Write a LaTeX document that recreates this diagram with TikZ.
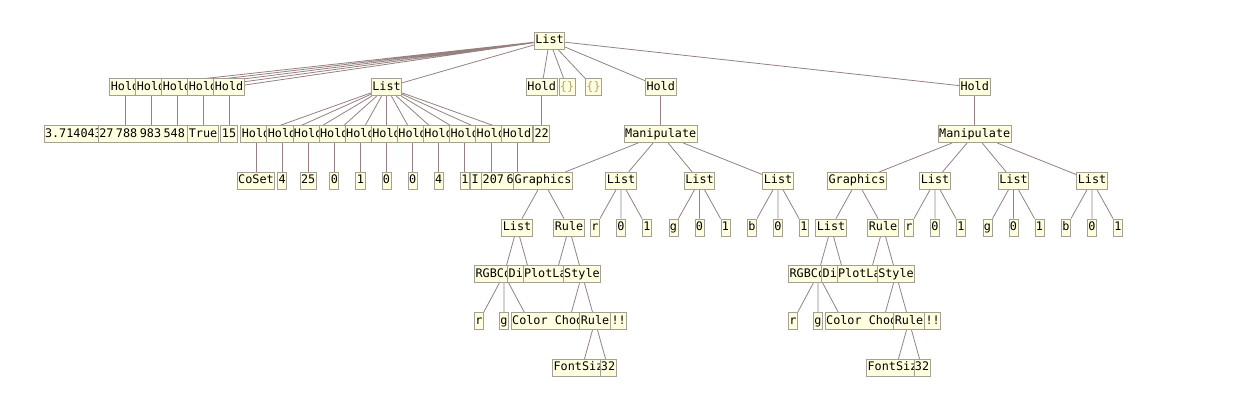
\documentclass[tikz,border=0pt]{standalone}
\usepackage{fontspec}
\newfontfamily\treefont{DejaVu Sans Mono}
\usetikzlibrary{backgrounds}

\definecolor{boxfill}{RGB}{255,255,224}
\definecolor{framegray}{RGB}{165,160,150}
\definecolor{edgecol}{RGB}{150,128,128}
\definecolor{bracecol}{RGB}{190,160,120}
\newcommand\tf{\treefont\fontsize{11.8}{13}\selectfont}
\newcommand\gap{\hspace{2.5pt}}
\tikzset{wide/.style={text width=#1,align=left}}

\begin{document}
\begin{tikzpicture}[x=1pt,y=-1pt]
\tikzstyle{vtx}=[draw=framegray,fill=boxfill,line width=0.8pt,inner xsep=1pt,inner ysep=0pt,minimum height=17pt,text height=8.6pt,text depth=2.4pt,font=\tf]
\tikzstyle{link}=[draw=edgecol,line width=0.8pt]
\useasboundingbox (0,0) rectangle (1244,410);

% level 0 and 1
\node[vtx] (root) at (549.5,40.5) {List};
\node[vtx] (ha) at (125,87.3) {Hold};
\node[vtx] (hb) at (151,87.3) {Hold};
\node[vtx] (hc) at (177,87.3) {Hold};
\node[vtx] (hd) at (203,87.3) {Hold};
\node[vtx] (he) at (229,87.3) {Hold};
\node[vtx] (lst) at (386.5,87.3) {List};
\node[vtx] (hf) at (541.7,87.3) {Hold};
\node[vtx,text=bracecol] (ea) at (567,87.3) {\{\}};
\node[vtx,text=bracecol] (eb) at (593.5,87.3) {\{\}};
\node[vtx] (hm) at (660.7,87.3) {Hold};
\node[vtx] (hn) at (974.7,87.3) {Hold};

% level 2
\node[vtx,wide=160pt] (va) at (125,134) {3.714043};
\node[vtx,wide=103.4pt] (vb) at (151,134) {27\gap788\gap983\gap548\gap9};
\coordinate (vc) at (177,134);
\node[vtx] (vd) at (203,134) {True};
\node[vtx] (ve) at (229,134) {15};
\node[vtx] (k1) at (256,134) {Hold};
\node[vtx] (k2) at (282.1,134) {Hold};
\node[vtx] (k3) at (308.2,134) {Hold};
\node[vtx] (k4) at (334.3,134) {Hold};
\node[vtx] (k5) at (360.4,134) {Hold};
\node[vtx] (k6) at (386.5,134) {Hold};
\node[vtx] (k7) at (412.6,134) {Hold};
\node[vtx] (k8) at (438.7,134) {Hold};
\node[vtx] (k9) at (464.8,134) {Hold};
\node[vtx] (k10) at (490.9,134) {Hold};
\node[vtx] (k11) at (517,134) {Hold};
\node[vtx] (vf) at (541.7,134) {22};
\node[vtx] (ma) at (660.7,134) {Manipulate};
\node[vtx] (mb) at (974.7,134) {Manipulate};

% level 3
\node[vtx] (c1) at (256,180.8) {CoSet};
\node[vtx] (c2) at (282.1,180.8) {4};
\node[vtx] (c3) at (308.2,180.8) {25};
\node[vtx] (c4) at (334.3,180.8) {0};
\node[vtx] (c5) at (360.4,180.8) {1};
\node[vtx] (c6) at (386.5,180.8) {0};
\node[vtx] (c7) at (412.6,180.8) {0};
\node[vtx] (c8) at (438.7,180.8) {4};
\node[vtx] (c9) at (464.8,180.8) {1};
\node[vtx,wide=38.4pt] (c10) at (490.9,180.8) {I};
\node[vtx,wide=68.6pt] (c11) at (517,180.8) {207\gap6};
\node[vtx] (ga) at (543,180.8) {Graphics};
\node[vtx] (pa) at (621,180.8) {List};
\node[vtx] (qa) at (699.5,180.8) {List};
\node[vtx] (sa) at (778,180.8) {List};
\node[vtx] (gb) at (857,180.8) {Graphics};
\node[vtx] (pb) at (935,180.8) {List};
\node[vtx] (qb) at (1013.5,180.8) {List};
\node[vtx] (sb) at (1092,180.8) {List};

% level 4
\node[vtx] (la) at (517,227.5) {List};
\node[vtx] (ra) at (569,227.5) {Rule};
\node[vtx] (pa1) at (595,227.5) {r};
\node[vtx] (pa2) at (621,227.5) {0};
\node[vtx] (pa3) at (647,227.5) {1};
\node[vtx] (qa1) at (673.5,227.5) {g};
\node[vtx] (qa2) at (699.5,227.5) {0};
\node[vtx] (qa3) at (725.5,227.5) {1};
\node[vtx] (sa1) at (752,227.5) {b};
\node[vtx] (sa2) at (778,227.5) {0};
\node[vtx] (sa3) at (804,227.5) {1};
\node[vtx] (lb) at (831,227.5) {List};
\node[vtx] (rb) at (883,227.5) {Rule};
\node[vtx] (pb1) at (909,227.5) {r};
\node[vtx] (pb2) at (935,227.5) {0};
\node[vtx] (pb3) at (961,227.5) {1};
\node[vtx] (qb1) at (987.5,227.5) {g};
\node[vtx] (qb2) at (1013.5,227.5) {0};
\node[vtx] (qb3) at (1039.5,227.5) {1};
\node[vtx] (sb1) at (1066,227.5) {b};
\node[vtx] (sb2) at (1092,227.5) {0};
\node[vtx] (sb3) at (1118,227.5) {1};

% level 5
\node[vtx] (rgba) at (504,274.3) {RGBColor};
\node[vtx] (dska) at (530,274.3) {Disk[]};
\node[vtx] (plba) at (556,274.3) {PlotLabel};
\node[vtx] (stya) at (582,274.3) {Style};
\node[vtx] (rgbb) at (818,274.3) {RGBColor};
\node[vtx] (dskb) at (844,274.3) {Disk[]};
\node[vtx] (plbb) at (870,274.3) {PlotLabel};
\node[vtx] (styb) at (896,274.3) {Style};

% level 6
\node[vtx] (ua1) at (479,321) {r};
\node[vtx] (ua2) at (504,321) {g};
\coordinate (ua3) at (529,321);
\node[vtx] (chsa) at (569,321) {Color Chooser !!};
\node[vtx] (rula) at (595,321) {Rule};
\node[vtx] (ub1) at (793,321) {r};
\node[vtx] (ub2) at (818,321) {g};
\coordinate (ub3) at (843,321);
\node[vtx] (chsb) at (883,321) {Color Chooser !!};
\node[vtx] (rulb) at (909,321) {Rule};

% level 7
\node[vtx] (fsa) at (582,367.8) {FontSize};
\node[vtx] (nma) at (608,367.8) {32};
\node[vtx] (fsb) at (896,367.8) {FontSize};
\node[vtx] (nmb) at (922,367.8) {32};

% connectors
\begin{scope}[on background layer]
\draw[link] (root) -- (ha) (root) -- (hb) (root) -- (hc) (root) -- (hd) (root) -- (he)
  (root) -- (lst) (root) -- (hf) (root) -- (ea) (root) -- (eb) (root) -- (hm) (root) -- (hn);
\draw[link] (ha) -- (va) (hb) -- (vb) (hc) -- (vc) (hd) -- (vd) (he) -- (ve)
  (hf) -- (vf) (hm) -- (ma) (hn) -- (mb);
\draw[link] (lst) -- (k1) (lst) -- (k2) (lst) -- (k3) (lst) -- (k4) (lst) -- (k5) (lst) -- (k6)
  (lst) -- (k7) (lst) -- (k8) (lst) -- (k9) (lst) -- (k10) (lst) -- (k11);
\draw[link] (k1) -- (c1) (k2) -- (c2) (k3) -- (c3) (k4) -- (c4) (k5) -- (c5) (k6) -- (c6)
  (k7) -- (c7) (k8) -- (c8) (k9) -- (c9) (k10) -- (c10) (k11) -- (c11);
\draw[link] (ma) -- (ga) (ma) -- (pa) (ma) -- (qa) (ma) -- (sa)
  (ga) -- (la) (ga) -- (ra)
  (pa) -- (pa1) (pa) -- (pa2) (pa) -- (pa3)
  (qa) -- (qa1) (qa) -- (qa2) (qa) -- (qa3)
  (sa) -- (sa1) (sa) -- (sa2) (sa) -- (sa3)
  (la) -- (rgba) (la) -- (dska) (ra) -- (plba) (ra) -- (stya)
  (rgba) -- (ua1) (rgba) -- (ua2) (rgba) -- (ua3)
  (stya) -- (chsa) (stya) -- (rula) (rula) -- (fsa) (rula) -- (nma);
\draw[link] (mb) -- (gb) (mb) -- (pb) (mb) -- (qb) (mb) -- (sb)
  (gb) -- (lb) (gb) -- (rb)
  (pb) -- (pb1) (pb) -- (pb2) (pb) -- (pb3)
  (qb) -- (qb1) (qb) -- (qb2) (qb) -- (qb3)
  (sb) -- (sb1) (sb) -- (sb2) (sb) -- (sb3)
  (lb) -- (rgbb) (lb) -- (dskb) (rb) -- (plbb) (rb) -- (styb)
  (rgbb) -- (ub1) (rgbb) -- (ub2) (rgbb) -- (ub3)
  (styb) -- (chsb) (styb) -- (rulb) (rulb) -- (fsb) (rulb) -- (nmb);
\end{scope}
\end{tikzpicture}
\end{document}
